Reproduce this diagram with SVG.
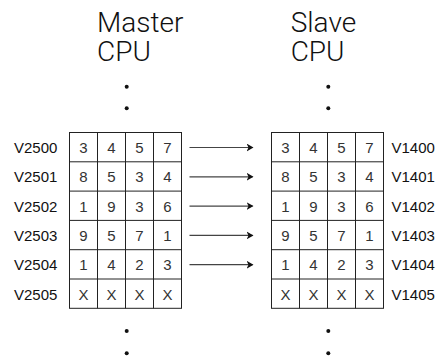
<svg xmlns="http://www.w3.org/2000/svg" width="438" height="358" viewBox="0 0 438 358">
<style>
.title{font-family:Roboto,"Liberation Sans",Arial,sans-serif;font-weight:300;font-size:28px;fill:#111;}
.lbl{font-family:"Liberation Sans",Arial,sans-serif;font-size:15px;fill:#111;}
.cell{font-family:"Liberation Sans",Arial,sans-serif;font-size:15px;fill:#333;text-anchor:middle;}
.grid{fill:none;stroke:#222;stroke-width:1;}
.conn{stroke:#444;stroke-width:1.2;fill:none;marker-end:url(#ah);}
.dot{fill:#111;}
</style>
<defs>
<marker id="ah" markerWidth="7" markerHeight="8" refX="6" refY="4" orient="auto" markerUnits="userSpaceOnUse">
<path d="M0,0 L7,4 L0,8 L2,4 Z" fill="#111"/>
</marker>
</defs>
<rect width="438" height="358" fill="#fff"/>
<g id="master-title">
<text class="title"><tspan x="97" y="31.7">Master</tspan><tspan x="97" y="61">CPU</tspan></text>
<circle class="dot" cx="126.7" cy="86.7" r="2"/>
<circle class="dot" cx="126.7" cy="108.3" r="2"/>
<circle class="dot" cx="126.7" cy="331" r="2"/>
<circle class="dot" cx="126.7" cy="353.3" r="2"/>
</g>
<g id="slave-title">
<text class="title"><tspan x="290.7" y="31.7">Slave</tspan><tspan x="290.7" y="61">CPU</tspan></text>
<circle class="dot" cx="328.3" cy="86.7" r="2"/>
<circle class="dot" cx="328.3" cy="108.3" r="2"/>
<circle class="dot" cx="328.3" cy="331" r="2"/>
<circle class="dot" cx="328.3" cy="353.3" r="2"/>
</g>
<g id="master-grid">
<rect class="grid" x="69.5" y="132.5" width="112" height="175.8"/>
<path class="grid" d="M97.5,132.5V308.3M125.5,132.5V308.3M153.5,132.5V308.3M69.5,161.8H181.5M69.5,191.1H181.5M69.5,220.4H181.5M69.5,249.7H181.5M69.5,279H181.5"/>
<text class="lbl" x="14" y="153">V2500</text>
<text class="lbl" x="14" y="182.3">V2501</text>
<text class="lbl" x="14" y="211.6">V2502</text>
<text class="lbl" x="14" y="240.9">V2503</text>
<text class="lbl" x="14" y="270.2">V2504</text>
<text class="lbl" x="14" y="299.5">V2505</text>
<text class="cell" x="83.5" y="153">3</text><text class="cell" x="111.5" y="153">4</text><text class="cell" x="139.5" y="153">5</text><text class="cell" x="167.5" y="153">7</text>
<text class="cell" x="83.5" y="182.3">8</text><text class="cell" x="111.5" y="182.3">5</text><text class="cell" x="139.5" y="182.3">3</text><text class="cell" x="167.5" y="182.3">4</text>
<text class="cell" x="83.5" y="211.6">1</text><text class="cell" x="111.5" y="211.6">9</text><text class="cell" x="139.5" y="211.6">3</text><text class="cell" x="167.5" y="211.6">6</text>
<text class="cell" x="83.5" y="240.9">9</text><text class="cell" x="111.5" y="240.9">5</text><text class="cell" x="139.5" y="240.9">7</text><text class="cell" x="167.5" y="240.9">1</text>
<text class="cell" x="83.5" y="270.2">1</text><text class="cell" x="111.5" y="270.2">4</text><text class="cell" x="139.5" y="270.2">2</text><text class="cell" x="167.5" y="270.2">3</text>
<text class="cell" x="83.5" y="299.5">X</text><text class="cell" x="111.5" y="299.5">X</text><text class="cell" x="139.5" y="299.5">X</text><text class="cell" x="167.5" y="299.5">X</text>
</g>
<g id="slave-grid">
<rect class="grid" x="271.5" y="132.5" width="112" height="175.8"/>
<path class="grid" d="M299.5,132.5V308.3M327.5,132.5V308.3M355.5,132.5V308.3M271.5,161.8H383.5M271.5,191.1H383.5M271.5,220.4H383.5M271.5,249.7H383.5M271.5,279H383.5"/>
<text class="lbl" x="391.5" y="153">V1400</text>
<text class="lbl" x="391.5" y="182.3">V1401</text>
<text class="lbl" x="391.5" y="211.6">V1402</text>
<text class="lbl" x="391.5" y="240.9">V1403</text>
<text class="lbl" x="391.5" y="270.2">V1404</text>
<text class="lbl" x="391.5" y="299.5">V1405</text>
<text class="cell" x="285.5" y="153">3</text><text class="cell" x="313.5" y="153">4</text><text class="cell" x="341.5" y="153">5</text><text class="cell" x="369.5" y="153">7</text>
<text class="cell" x="285.5" y="182.3">8</text><text class="cell" x="313.5" y="182.3">5</text><text class="cell" x="341.5" y="182.3">3</text><text class="cell" x="369.5" y="182.3">4</text>
<text class="cell" x="285.5" y="211.6">1</text><text class="cell" x="313.5" y="211.6">9</text><text class="cell" x="341.5" y="211.6">3</text><text class="cell" x="369.5" y="211.6">6</text>
<text class="cell" x="285.5" y="240.9">9</text><text class="cell" x="313.5" y="240.9">5</text><text class="cell" x="341.5" y="240.9">7</text><text class="cell" x="369.5" y="240.9">1</text>
<text class="cell" x="285.5" y="270.2">1</text><text class="cell" x="313.5" y="270.2">4</text><text class="cell" x="341.5" y="270.2">2</text><text class="cell" x="369.5" y="270.2">3</text>
<text class="cell" x="285.5" y="299.5">X</text><text class="cell" x="313.5" y="299.5">X</text><text class="cell" x="341.5" y="299.5">X</text><text class="cell" x="369.5" y="299.5">X</text>
</g>
<g id="connectors">
<line class="conn" x1="189.5" y1="147.5" x2="252.5" y2="147.5"/>
<line class="conn" x1="189.5" y1="176.8" x2="252.5" y2="176.8"/>
<line class="conn" x1="189.5" y1="206.1" x2="252.5" y2="206.1"/>
<line class="conn" x1="189.5" y1="235.4" x2="252.5" y2="235.4"/>
<line class="conn" x1="189.5" y1="264.7" x2="252.5" y2="264.7"/>
</g>
</svg>
